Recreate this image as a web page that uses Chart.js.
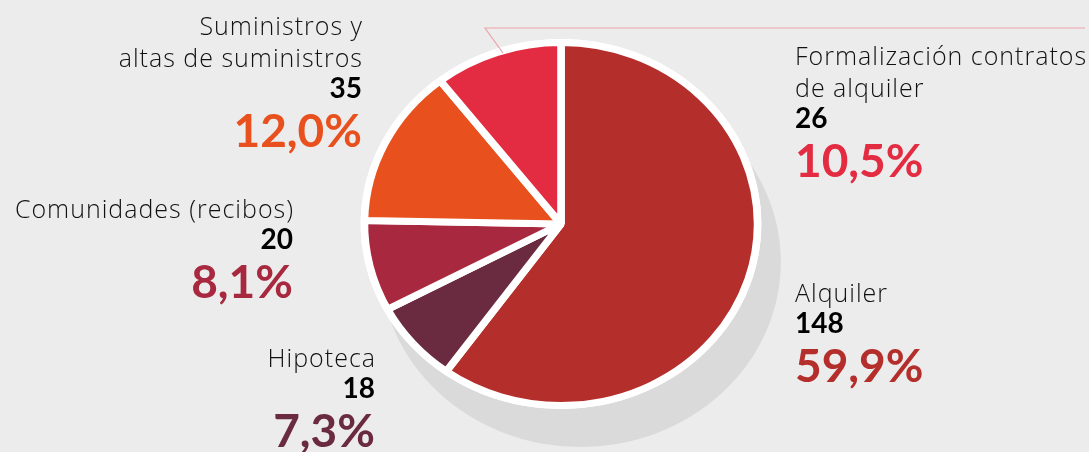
<!DOCTYPE html>
<html>
<head>
<meta charset="utf-8">
<script src="https://cdn.jsdelivr.net/npm/chart.js@4.4.0/dist/chart.umd.min.js"></script>
<style>
  html, body { margin: 0; padding: 0; background: #ececec; }
  #wrap { position: relative; width: 1089px; height: 452px; }
</style>
</head>
<body>
<div id="wrap"><canvas id="pieChart"></canvas></div>
<script>
// data
var categories = ['Alquiler', 'Hipoteca', 'Comunidades (recibos)', 'Suministros y altas de suministros', 'Formalización contratos de alquiler'];
var counts = [148, 18, 20, 35, 26];
var percentLabels = ['59,9%', '7,3%', '8,1%', '12,0%', '10,5%'];
var nameLines = [['Alquiler'], ['Hipoteca'], ['Comunidades (recibos)'], ['Suministros y', 'altas de suministros'], ['Formalización contratos', 'de alquiler']];

var sliceColors = ['#b42e2b', '#6a2a40', '#a8293f', '#e8501d', '#e32c41'];

// where each label block sits (x anchor, baseline of first line, alignment)
var labelPos = [
  { x: 795, y: 302, align: 'left' },
  { x: 375, y: 367, align: 'right' },
  { x: 293, y: 218, align: 'right' },
  { x: 362, y: 35, align: 'right' },
  { x: 795, y: 65, align: 'left' }
];

var squashX = 1.083;   // pie is drawn a bit wider than tall

var ellipsePlugin = {
  id: 'ellipse',
  beforeDatasetsDraw: function(chart) {
    var ctx = chart.ctx;
    var arc = chart.getDatasetMeta(0).data[0];
    if (!arc) return;
    var cx = arc.x, cy = arc.y, r = arc.outerRadius + 3.5;
    ctx.save();
    ctx.translate(cx, cy);
    ctx.scale(squashX, 1);
    ctx.translate(-cx, -cy);
    // grey shadow under the pie
    ctx.fillStyle = '#dadada';
    ctx.beginPath();
    ctx.arc(cx + 18, cy + 38, r, 0, Math.PI * 2);
    ctx.fill();
    ctx.fillStyle = '#ffffff';
    ctx.beginPath();
    ctx.arc(cx, cy, r, 0, Math.PI * 2);
    ctx.fill();
  },
  afterDatasetsDraw: function(chart) {
    chart.ctx.restore();
  }
};

var labelPlugin = {
  id: 'labels',
  afterDraw: function(chart) {
    var ctx = chart.ctx;
    ctx.save();
    // leader line for the top-right label
    ctx.strokeStyle = '#eba3aa';
    ctx.lineWidth = 1.2;
    ctx.beginPath();
    ctx.moveTo(503, 53);
    ctx.lineTo(485, 28);
    ctx.lineTo(1085, 28);
    ctx.stroke();

    for (var i = 0; i < categories.length; i++) {
      var p = labelPos[i];
      var y = p.y;
      var sx = p.align === 'right' ? p.x + 1 : p.x;
      ctx.textAlign = p.align;
      ctx.textBaseline = 'alphabetic';
      ctx.fillStyle = '#111111';
      ctx.font = '300 25px "Open Sans", Lato, sans-serif';
      ctx.letterSpacing = '1px';
      nameLines[i].forEach(function(line, k) {
        ctx.fillText(line, sx, y + k * 32);
      });
      ctx.letterSpacing = '0px';
      y += (nameLines[i].length - 1) * 32 + 31;
      ctx.font = 'bold 28px Lato, "Open Sans", sans-serif';
      ctx.fillStyle = '#000000';
      ctx.fillText(String(counts[i]), p.x, y);
      y += 49;
      ctx.font = 'bold 46px Lato, "Open Sans", sans-serif';
      ctx.fillStyle = sliceColors[i];
      ctx.fillText(percentLabels[i], p.x, y);
    }
    ctx.restore();
  }
};

var pieChart = new Chart(document.getElementById('pieChart'), {
  type: 'pie',
  data: {
    labels: categories,
    datasets: [{
      data: counts,
      backgroundColor: sliceColors,
      borderColor: '#ffffff',
      borderWidth: 7,
      clip: false
    }]
  },
  options: {
    responsive: true,
    maintainAspectRatio: false,
    animation: false,
    layout: { padding: { left: 354, right: 321, top: 39, bottom: 43 } },
    plugins: {
      legend: { display: false },
      tooltip: { enabled: false }
    }
  },
  plugins: [ellipsePlugin, labelPlugin]
});
</script>
</body>
</html>
